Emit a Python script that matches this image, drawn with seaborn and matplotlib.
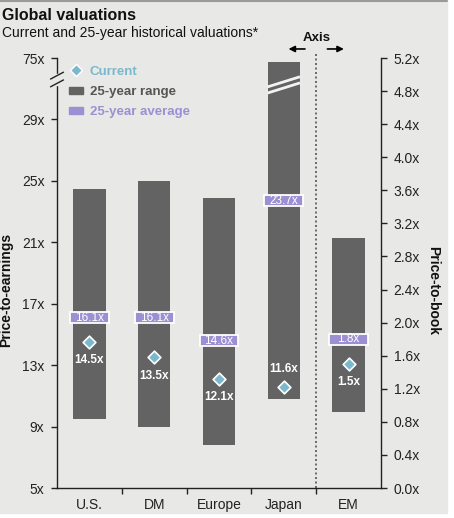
import numpy as np
import matplotlib.pyplot as plt
import matplotlib.patches as mpatches
from matplotlib.lines import Line2D
import seaborn as sns
import pandas as pd

regions = ["U.S.", "DM", "Europe", "Japan", "EM"]
# first four on price-to-earnings (left axis), EM on price-to-book (right axis)
range_low = [9.5, 9.0, 7.8, 10.8, 0.92]
range_high = [24.5, 25.0, 23.9, 72.0, 3.02]
average = [16.1, 16.1, 14.6, 23.7, 1.8]
current = [14.5, 13.5, 12.1, 11.6, 1.5]
avg_labels = ["16.1x", "16.1x", "14.6x", "23.7x", "1.8x"]
cur_labels = ["14.5x", "13.5x", "12.1x", "11.6x", "1.5x"]
pe_ticks = [5, 9, 13, 17, 21, 25, 29, 75]
pb_ticks = [0.0, 0.4, 0.8, 1.2, 1.6, 2.0, 2.4, 2.8, 3.2, 3.6, 4.0, 4.4, 4.8, 5.2]

BG = "#e8e8e6"
BAR = "#636363"
PURPLE = "#9c90d2"
BLUE = "#7cb8cc"

# broken P/E axis: 29x..75x squeezed into one tick step
PE_BREAK, PE_TOP, AX_TOP = 29, 75, 33


def pe_axis(v):
    if v <= PE_BREAK:
        return v
    return PE_BREAK + (v - PE_BREAK) * (AX_TOP - PE_BREAK) / (PE_TOP - PE_BREAK)


sns.set_theme(style="ticks")
plt.rcParams["font.family"] = ["Liberation Sans", "DejaVu Sans"]

fig = plt.figure(figsize=(4.54, 5.18), dpi=100, facecolor="white")
fig.patches.append(mpatches.Rectangle((0, 5 / 518), 447 / 454, 1 - 5 / 518,
                                      transform=fig.transFigure, color=BG, zorder=-10))
fig.lines.append(Line2D([0, 447 / 454], [1 - 1 / 518] * 2, transform=fig.transFigure,
                        color="#9a9a9a", lw=1.5))

ax = fig.add_axes([57 / 454, 30 / 518, 324 / 454, 430 / 518])
ax.set_facecolor("none")
ax2 = ax.twinx()
ax2.set_facecolor("none")

ax.set_xlim(-0.5, 4.5)
ax.set_ylim(5, AX_TOP)
ax2.set_ylim(0, 5.2)

df = pd.DataFrame({"region": regions, "low": range_low, "high": range_high,
                   "avg": average, "cur": current,
                   "avg_lab": avg_labels, "cur_lab": cur_labels})
df["x"] = np.arange(len(df))
pe = df.iloc[:4]
pb = df.iloc[4:]

# 25-year range bars
ax.bar(pe["x"], [pe_axis(h) - l for h, l in zip(pe["high"], pe["low"])],
       bottom=pe["low"], width=0.5, color=BAR, linewidth=0, zorder=2)
ax2.bar(pb["x"], pb["high"] - pb["low"], bottom=pb["low"], width=0.5, color=BAR,
        linewidth=0, zorder=2)

# break marks across the Japan bar
jx = pe["x"].iloc[3]
brk = 31.25
for off in (-0.2, 0.2):
    ax.plot([jx - 0.25, jx + 0.25], [brk - 0.33 + off, brk + 0.33 + off],
            color="#f2f2f2", lw=2, zorder=3, solid_capstyle="butt")

# 25-year average boxes
box_h_pe = 0.72
box_h_pb = box_h_pe * 5.2 / 28
for a, h in ((ax, box_h_pe), (ax2, box_h_pb)):
    d = pe if a is ax else pb
    a.bar(d["x"], h, bottom=d["avg"] - h / 2, width=0.6, color=PURPLE,
          edgecolor="white", linewidth=1.3, zorder=4)
    for x, y, t in zip(d["x"], d["avg"], d["avg_lab"]):
        a.text(x, y, t, ha="center", va="center", color="white", fontsize=8.5,
               zorder=5)

# current values
sns.scatterplot(x=pe["x"], y=pe["cur"], marker="D", s=42, color=BLUE,
                edgecolor="white", linewidth=1.2, ax=ax, zorder=6, legend=False)
sns.scatterplot(x=pb["x"], y=pb["cur"], marker="D", s=42, color=BLUE,
                edgecolor="white", linewidth=1.2, ax=ax2, zorder=6, legend=False)
for a, d in ((ax, pe), (ax2, pb)):
    for x, y, t, r in zip(d["x"], d["cur"], d["cur_lab"], d["region"]):
        dy = 13 if r == "Japan" else -13
        a.annotate(t, (x, y), xytext=(0, dy), textcoords="offset points",
                   ha="center", va="center", color="white", fontsize=8.5,
                   fontweight="bold", zorder=7)

# axes styling
ax.set_xlabel("")
ax2.set_xlabel("")
ax.set_xticks(df["x"])
ax.set_xticklabels(regions, fontsize=10, color="#222222")
ax.set_xticks([0.5, 1.5, 2.5, 3.5], minor=True)
ax.tick_params(axis="x", which="major", length=0, pad=7)
ax.tick_params(axis="x", which="minor", length=4, width=1, color="#222222")
ax.set_yticks([pe_axis(v) for v in pe_ticks])
ax.set_yticklabels([f"{v}x" for v in pe_ticks], fontsize=10, color="#222222")
ax.tick_params(axis="y", length=4, width=1, color="#222222", pad=5)
ax2.set_yticks(pb_ticks)
ax2.set_yticklabels([f"{v:.1f}x" for v in pb_ticks], fontsize=10, color="#222222")
ax2.tick_params(axis="y", length=4, width=1, color="#222222", pad=5)

for s in ("top", "right"):
    ax.spines[s].set_visible(False)
for s in ("top", "left", "bottom"):
    ax2.spines[s].set_visible(False)
for sp in (ax.spines["left"], ax.spines["bottom"], ax2.spines["right"]):
    sp.set_color("#222222")
    sp.set_linewidth(1)

ax.set_ylabel("Price-to-earnings", fontsize=10, fontweight="bold", color="#111111")
ax.yaxis.set_label_coords(-0.135, 0.46)
ax2.set_ylabel("Price-to-book", fontsize=10, fontweight="bold", color="#111111",
               rotation=270, va="center")
ax2.yaxis.set_label_coords(1.16, 0.46)

# break on the left spine
ax.add_patch(mpatches.Rectangle((-0.03, 0.938), 0.06, 0.024, transform=ax.transAxes,
                                color=BG, clip_on=False, zorder=10))
for yc in (0.941, 0.959):
    ax.plot([-0.02, 0.02], [yc - 0.008, yc + 0.008], transform=ax.transAxes,
            color="#222222", lw=1, clip_on=False, zorder=11)

# axis divider between P/E and P/B markets
xt = ax.get_xaxis_transform()
ax.plot([3.5, 3.5], [0, 1.015], transform=xt, color="#555555", ls=(0, (1.2, 1.5)),
        lw=1.2, clip_on=False, zorder=1)
ax.text(3.5, 1.047, "Axis", transform=xt, ha="center", va="center",
        fontsize=9.5, fontweight="bold", color="#111111")
ax.annotate("", xy=(3.03, 1.021), xytext=(3.37, 1.021), xycoords=xt, textcoords=xt,
            arrowprops=dict(arrowstyle="-|>", color="black", lw=1.2, mutation_scale=9))
ax.annotate("", xy=(3.97, 1.021), xytext=(3.63, 1.021), xycoords=xt, textcoords=xt,
            arrowprops=dict(arrowstyle="-|>", color="black", lw=1.2, mutation_scale=9))

# legend
handles = [
    Line2D([], [], marker="D", ls="none", color=BLUE, markeredgecolor="white",
           markersize=6.5),
    mpatches.Patch(color=BAR),
    mpatches.Patch(color=PURPLE),
]
leg = ax.legend(handles, ["Current", "25-year range", "25-year average"],
                loc="upper left", bbox_to_anchor=(0.0, 1.01), frameon=False,
                labelcolor=[BLUE, "#555555", PURPLE], handlelength=1.1,
                handleheight=0.45, handletextpad=0.5, labelspacing=0.62,
                prop={"size": 9.5, "weight": "bold"})
leg.set_zorder(12)

fig.text(0.005, 1 - 16 / 518, "Global valuations", fontsize=11.5, fontweight="bold",
         va="center", color="#111111")
fig.text(0.005, 1 - 33 / 518, "Current and 25-year historical valuations*", fontsize=10,
         va="center", color="#111111")

fig.savefig("out.png", dpi=100, facecolor=fig.get_facecolor())
